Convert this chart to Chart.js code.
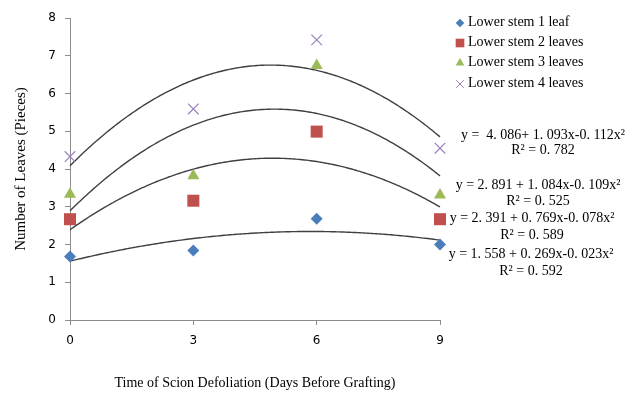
<!DOCTYPE html>
<html>
<head>
<meta charset="utf-8">
<script src="https://cdn.jsdelivr.net/npm/chart.js@4.4.0/dist/chart.umd.min.js"></script>
<style>
    body { margin: 0; background: #fff; }
    #leafChart { display: block; }
</style>
</head>
<body>
<canvas id="leafChart" width="635" height="394"></canvas>
<script>
// data
const days = [0, 3, 6, 9];
const leaf1 = [1.68, 1.84, 2.68, 2.0];
const leaves2 = [2.67, 3.16, 4.99, 2.67];
const leaves3 = [3.33, 3.82, 6.74, 3.31];
const leaves4 = [4.33, 5.59, 7.42, 4.55];
const seriesNames = ['Lower stem 1 leaf', 'Lower stem 2 leaves', 'Lower stem 3 leaves', 'Lower stem 4 leaves'];

// quadratic fit coefficients (c0, c1, c2) as printed on the figure
const fit1 = [1.558, 0.269, -0.023];
const fit2 = [2.391, 0.769, -0.078];
const fit3 = [2.891, 1.084, -0.109];
const fit4 = [4.086, 1.093, -0.112];
const fitEquations = [
    'y = 1. 558 + 0. 269x-0. 023x\u00b2',
    'y = 2. 391 + 0. 769x-0. 078x\u00b2',
    'y = 2. 891 + 1. 084x-0. 109x\u00b2',
    'y =  4. 086+ 1. 093x-0. 112x\u00b2'
];
const fitR2 = ['R\u00b2 = 0. 592', 'R\u00b2 = 0. 589', 'R\u00b2 = 0. 525', 'R\u00b2 = 0. 782'];

const xTicks = [0, 3, 6, 9];
const yTicks = [0, 1, 2, 3, 4, 5, 6, 7, 8];

const serif = '"Liberation Serif", "Times New Roman", serif';
const sans = '"DejaVu Sans", Verdana, sans-serif';
const colors = ['#4a7ebb', '#c0504d', '#9bbb59', '#9b80bf'];
const styles = ['rectRot', 'rect', 'triangle', 'crossRot'];
const radii = [6, 8.5, 7, 7.5];

function toPoints(values) {
    return days.map((d, i) => ({ x: d, y: values[i] }));
}

const series = [leaf1, leaves2, leaves3, leaves4];
const datasets = series.map((vals, i) => ({
    label: seriesNames[i],
    data: toPoints(vals),
    pointStyle: styles[i],
    pointRadius: radii[i],
    pointHoverRadius: radii[i],
    backgroundColor: colors[i],
    borderColor: colors[i],
    borderWidth: i === 3 ? 1.2 : 0,
    clip: false
}));

// trend curves from the coefficients, through the chart's scales; legend + equations
const trendPlugin = {
    id: 'trend',
    beforeDatasetsDraw(chart) {
        const { ctx, scales: { x, y } } = chart;
        ctx.save();
        ctx.strokeStyle = '#404040';
        ctx.lineWidth = 1.4;
        [fit1, fit2, fit3, fit4].forEach(c => {
            ctx.beginPath();
            for (let t = days[0]; t <= days[days.length - 1] + 1e-9; t += 0.05) {
                const v = c[0] + c[1] * t + c[2] * t * t;
                const px = x.getPixelForValue(t);
                const py = y.getPixelForValue(v);
                if (t === days[0]) ctx.moveTo(px, py); else ctx.lineTo(px, py);
            }
            ctx.stroke();
        });
        ctx.restore();
    },
    afterDraw(chart) {
        const ctx = chart.ctx;
        ctx.save();
        ctx.font = '14px ' + serif;
        ctx.textBaseline = 'middle';
        ctx.textAlign = 'left';
        const legendY = [22, 42, 62, 83];
        seriesNames.forEach((name, i) => {
            const ds = chart.data.datasets[i];
            ctx.fillStyle = colors[i];
            ctx.strokeStyle = colors[i];
            ctx.lineWidth = 1;
            Chart.helpers.drawPoint(ctx, {
                pointStyle: ds.pointStyle,
                radius: ds.pointRadius * 0.72,
                rotation: 0,
                borderWidth: ds.borderWidth
            }, 460, legendY[i] + 1);
            ctx.fillStyle = '#000';
            ctx.fillText(name, 468, legendY[i]);
        });
        ctx.textAlign = 'center';
        const eqPos = [[531, 254, 271], [532, 218, 235], [538, 185, 201], [543, 135, 150]];
        fitEquations.forEach((eq, i) => {
            const [cx, ey, ry] = eqPos[i];
            ctx.fillText(eq, cx, ey);
            ctx.fillText(fitR2[i], cx, ry);
        });
        ctx.restore();
    }
};

const ctx = document.getElementById('leafChart').getContext('2d');

new Chart(ctx, {
    type: 'scatter',
    data: { datasets },
    options: {
        responsive: false,
        animation: false,
        layout: { padding: { top: 18, right: 195, left: 0, bottom: 0 } },
        plugins: {
            legend: { display: false },
            tooltip: { enabled: false }
        },
        scales: {
            x: {
                type: 'linear',
                min: 0,
                max: 9,
                afterBuildTicks: s => { s.ticks = xTicks.map(v => ({ value: v })); },
                afterFit: s => { s.height = 74; },
                ticks: { color: '#000', padding: 9, font: { family: sans, size: 12 } },
                grid: { drawOnChartArea: false, tickLength: 5, color: '#8c8c8c' },
                border: { color: '#8c8c8c' },
                title: {
                    display: true,
                    text: 'Time of Scion Defoliation (Days Before Grafting)',
                    color: '#000',
                    font: { family: serif, size: 14 },
                    padding: { top: 0, bottom: 2 }
                }
            },
            y: {
                min: 0,
                max: 8,
                afterBuildTicks: s => { s.ticks = yTicks.map(v => ({ value: v })); },
                afterFit: s => { s.width = 70; },
                ticks: { color: '#000', padding: 9, font: { family: sans, size: 12 } },
                grid: { drawOnChartArea: false, tickLength: 5, color: '#8c8c8c' },
                border: { color: '#8c8c8c' },
                title: {
                    display: true,
                    text: 'Number of Leaves (Pieces)',
                    color: '#000',
                    font: { family: serif, size: 15 },
                    padding: { top: 12, bottom: 0 }
                }
            }
        }
    },
    plugins: [trendPlugin]
});
</script>
</body>
</html>
